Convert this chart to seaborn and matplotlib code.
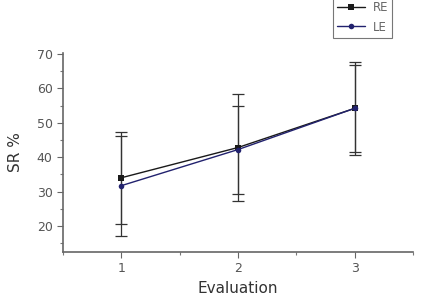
import matplotlib
matplotlib.use("Agg")
import matplotlib.pyplot as plt
import seaborn as sns
import pandas as pd
from matplotlib.ticker import MultipleLocator
from matplotlib.lines import Line2D

evaluation = [1, 2, 3]
re_values = [34.0, 42.8, 54.2]
re_errors = [13.4, 15.6, 13.5]
le_values = [31.7, 42.2, 54.2]
le_errors = [14.5, 12.8, 12.6]
series_names = ["RE", "LE"]

df = pd.DataFrame({
    "Evaluation": evaluation * 2,
    "SR": re_values + le_values,
    "err": re_errors + le_errors,
    "Series": [series_names[0]] * 3 + [series_names[1]] * 3,
})

sns.set_style("white")
plt.rcParams["font.family"] = ["DejaVu Sans"]

fig = plt.figure(figsize=(4.31, 3.05), dpi=100)
ax = fig.add_axes([63 / 431, 1 - 252 / 305, (413 - 63) / 431, (252 - 53) / 305])

colors = {"RE": "#1a1a1a", "LE": "#22226e"}
markers = {"RE": "s", "LE": "o"}

for name in series_names:
    sub = df[df["Series"] == name]
    ax.errorbar(sub["Evaluation"], sub["SR"], yerr=sub["err"], fmt="none",
                ecolor="#333333", elinewidth=0.9, capsize=4, capthick=0.9, zorder=1)

sns.lineplot(data=df, x="Evaluation", y="SR", hue="Series", style="Series",
             palette=colors, markers=markers, dashes=False, linewidth=1.0,
             markersize=4, markeredgewidth=0, ax=ax, legend=False, zorder=3)

ax.set_xlim(0.5, 3.5)
ax.set_ylim(12.4, 70.3)
ax.xaxis.set_major_locator(MultipleLocator(1))
ax.xaxis.set_minor_locator(MultipleLocator(0.5))
ax.yaxis.set_major_locator(MultipleLocator(10))
ax.yaxis.set_minor_locator(MultipleLocator(5))
ax.set_yticks([20, 30, 40, 50, 60, 70])

for s in ["top", "right"]:
    ax.spines[s].set_visible(False)
for s in ["left", "bottom"]:
    ax.spines[s].set_color("#666666")
    ax.spines[s].set_linewidth(1.2)

ax.tick_params(axis="both", which="major", direction="out", length=4, width=0.8,
               color="#666666", labelsize=9, labelcolor="#555555", bottom=True, left=True)
ax.tick_params(axis="both", which="minor", direction="out", length=2.5, width=0.8,
               color="#777777", bottom=True, left=True)

ax.set_xlabel("Evaluation", fontsize=11, color="#333333", labelpad=4)
ax.set_ylabel("SR %", fontsize=11, color="#333333", labelpad=10)

handles = [Line2D([0], [0], color=colors[n], marker=markers[n], markersize=4,
                  linewidth=1.0, markeredgewidth=0) for n in series_names]
leg = fig.legend(handles, series_names, loc="upper left",
                 bbox_to_anchor=(333 / 431, 1 + 3 / 305), frameon=True, fancybox=False,
                 fontsize=8.5, handlelength=2.4, borderpad=0.35, labelspacing=0.55,
                 handletextpad=0.6, borderaxespad=0)
leg.get_frame().set_edgecolor("#555555")
leg.get_frame().set_linewidth(0.8)
for t in leg.get_texts():
    t.set_color("#666666")

fig.savefig("out.png", dpi=100)
